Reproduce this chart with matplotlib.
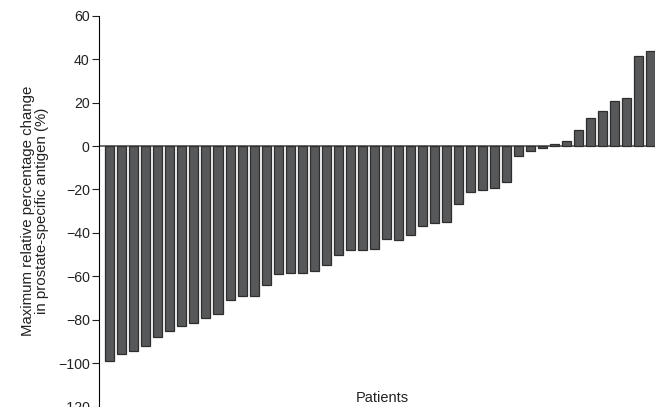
import numpy as np
import matplotlib
matplotlib.use('Agg')
import matplotlib.pyplot as plt

plt.rcParams.update({'font.family': ['Liberation Sans', 'DejaVu Sans'], 'font.size': 10})

# max relative PSA change per patient (%), waterfall order
psa_change = [-99, -96, -94.5, -92, -88, -85, -83, -81.5, -79, -77.5,
              -71, -69, -69, -64, -59, -58.7, -58.3, -57.4, -55, -50,
              -47.8, -47.8, -47.6, -43, -43.2, -41, -37, -35.3, -34.9, -26.5,
              -21, -20.4, -19.5, -16.7, -4.8, -2.5, -1, 0.7, 2.2, 7.2,
              13.1, 16, 20.9, 22, 41.3, 43.8]
yticks = [-120, -100, -80, -60, -40, -20, 0, 20, 40, 60]
ylabel = 'Maximum relative percentage change\nin prostate-specific antigen (%)'

fig = plt.figure(figsize=(6.56, 4.07), dpi=100)
ax = fig.add_axes([0.1515, 0.001, 0.847, 0.9604])

x = np.arange(len(psa_change))
ax.bar(x, psa_change, width=0.75, color='#575859', edgecolor='#2e2e2e', linewidth=0.9, zorder=2)
ax.axhline(0, color='#555555', lw=1.2, zorder=1)

ax.set_xlim(-0.88, len(psa_change) - 0.6)
ax.set_ylim(-120, 60)
ax.set_yticks(yticks)
ax.set_yticklabels([str(t).replace('-', '\u2212') for t in yticks])
ax.tick_params(axis='y', length=5, width=0.8, pad=2, colors='#222222', labelsize=10.2)
ax.set_xticks([])
for s in ['top', 'right', 'bottom']:
    ax.spines[s].set_visible(False)
ax.spines['left'].set_linewidth(0.8)
ax.set_ylabel(ylabel, fontsize=10.8, labelpad=6, color='#222222', linespacing=1.0)

fig.text(382 / 656, 1 - 398 / 407, 'Patients', ha='center', va='center', fontsize=10.5, color='#222222')

fig.savefig('out.png', dpi=100)
